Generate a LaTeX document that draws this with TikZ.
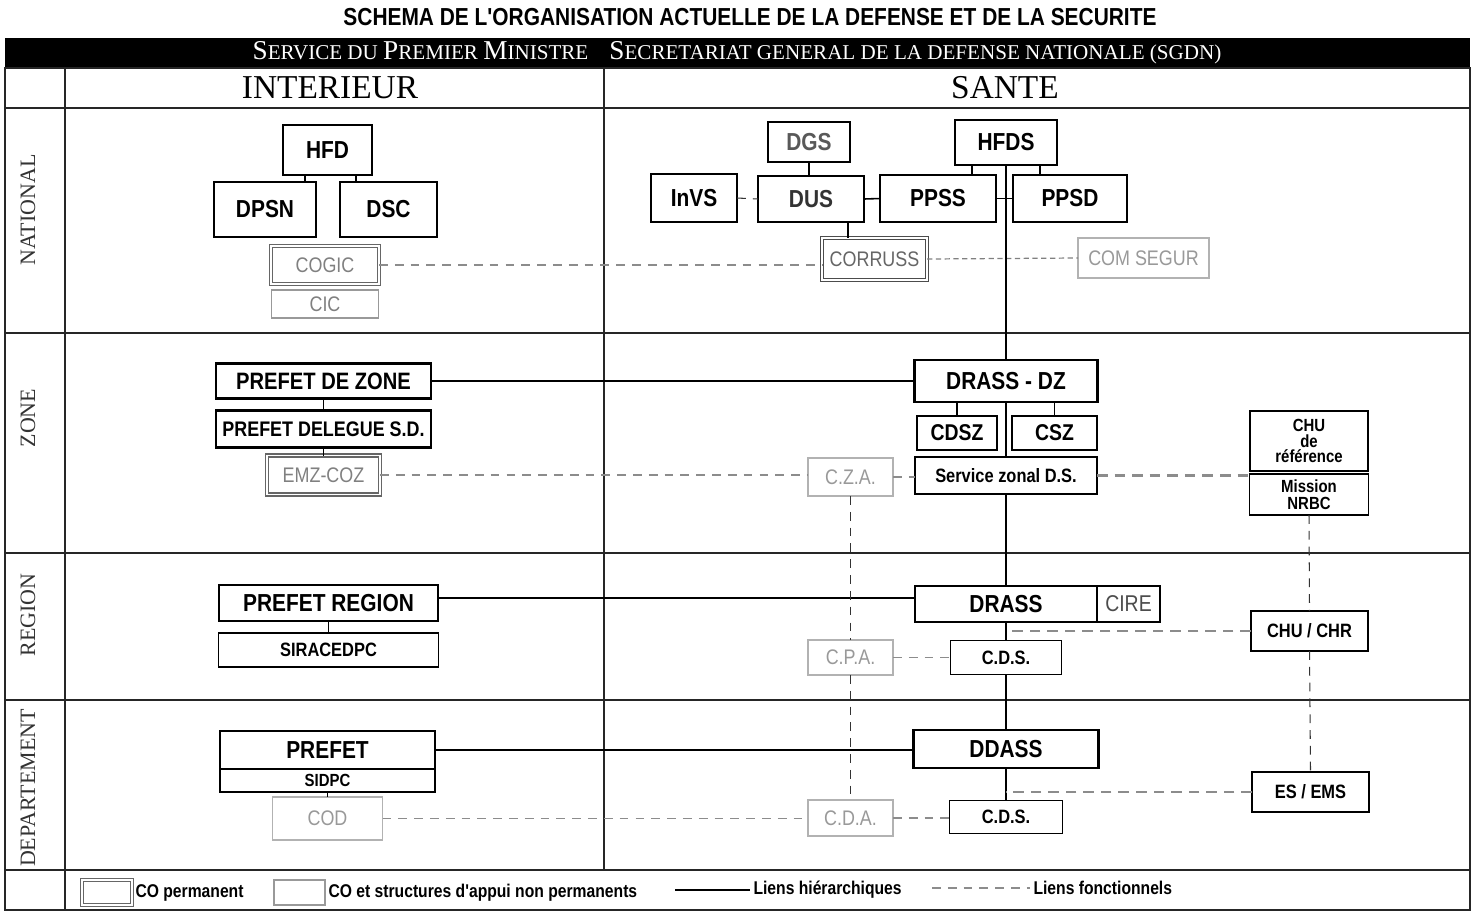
\documentclass[tikz,border=0pt]{standalone}
\usepackage{fontspec}
\setmainfont{Liberation Serif}
\newfontfamily\boxfont[FakeStretch=0.85]{Liberation Sans}
\usetikzlibrary{positioning}
\newcommand\initiale[1]{{\fontsize{15.5}{15}\selectfont #1}}

\begin{document}
\begin{tikzpicture}[x=0.02cm, y=-0.02cm,
    every node/.style={outer sep=0pt},
    sz/.style 2 args={minimum width=#1*0.02cm, minimum height=#2*0.02cm},
    coperm/.style={draw, line width=1.6pt, inner sep=0pt,
                   font=\boxfont\bfseries\fontsize{14}{15}\selectfont},
    cosub/.style={draw, line width=1pt, inner sep=0pt, align=center,
                  font=\boxfont\bfseries\fontsize{11}{11}\selectfont},
    conp/.style={draw=black!40, line width=0.8pt, text=black!50, inner sep=0pt,
                 font=\boxfont\fontsize{12}{13}\selectfont},
    conpd/.style={conp, draw=black!60, double=white, double distance=1pt,
                  line width=0.7pt},
    niveau/.style={rotate=90, text=black!80, font=\fontsize{12.5}{13}\selectfont},
    legende/.style={inner sep=2pt, font=\boxfont\bfseries\fontsize{10.5}{11}\selectfont},
    tab/.style={line width=0.9pt, black!85},
    hier/.style={line width=0.9pt},
    fonc/.style={black!45, line width=0.9pt, dash pattern=on 5pt off 4pt},
    foncfort/.style={black!45, line width=1.6pt, dash pattern=on 6pt off 4pt},
    foncfin/.style={black!80, line width=0.6pt, dash pattern=on 5pt off 4pt}
  ]
  \useasboundingbox (0,0) rectangle (1473,914);
  \fill[white] (0,0) rectangle (1473,914);

  % en-tete
  \node[font=\boxfont\bfseries\fontsize{14}{14}\selectfont] (titre) at (750,17)
    {SCHEMA DE L'ORGANISATION ACTUELLE DE LA DEFENSE ET DE LA SECURITE};
  \fill (5,38) rectangle (1470,68);
  \node[text=white, font=\fontsize{12}{12}\selectfont] (sgdn) at (737,53)
    {\initiale{S}ERVICE DU \initiale{P}REMIER \initiale{M}INISTRE\quad
     \initiale{S}ECRETARIAT GENERAL DE LA DEFENSE NATIONALE (SGDN)};

  % tableau
  \draw[tab] (5,68) rectangle (1470,910);
  \foreach \y in {108,333,553,700,870}
    \draw[tab] (5,\y) -- (1470,\y);
  \draw[tab] (65,68) -- (65,910);
  \draw[tab] (604,68) -- (604,870);
  \node[font=\fontsize{19}{20}\selectfont] (interieur) at (330,88) {INTERIEUR};
  \node[font=\fontsize{19}{20}\selectfont] (sante) at (1005,88) {SANTE};
  \node[niveau] (lnat) at (28,210) {NATIONAL};
  \node[niveau] (lzone) at (28,418) {ZONE};
  \node[niveau] (lreg) at (28,615) {REGION};
  \node[niveau] (ldep) at (28,788) {DEPARTEMENT};

  % national
  \node[coperm, sz={89}{50}] (hfd) at (327.5,150) {HFD};
  \node[coperm, sz={102}{55}] (dpsn) at (265,209.5) {DPSN};
  \node[coperm, sz={97}{55}] (dsc) at (388.5,209.5) {DSC};
  \node[conpd, sz={108}{38}] (cogic) at (325,265) {COGIC};
  \node[conp, sz={107}{28}, below=0.12cm of cogic] (cic) {CIC};
  \draw[hier] ([xshift=-0.45cm]hfd.south) -- ([xshift=-0.45cm]hfd.south |- dpsn.north);
  \draw[hier] ([xshift=0.57cm]hfd.south) -- ([xshift=0.57cm]hfd.south |- dsc.north);

  \node[coperm, sz={82}{40}, text=black!65] (dgs) at (809,142) {DGS};
  \node[coperm, sz={102}{45}] (hfds) at (1006,142.5) {HFDS};
  \node[coperm, sz={86}{48}] (invs) at (694,198) {InVS};
  \node[coperm, sz={106}{46}, text=black!80] (dus) at (811,199) {DUS};
  \node[coperm, sz={116}{47}] (ppss) at (938,198.5) {PPSS};
  \node[coperm, sz={114}{47}] (ppsd) at (1070,198.5) {PPSD};
  \node[conpd, sz={105}{42}, draw=black!70, text=black!60] (corruss) at (874.5,259) {CORRUSS};
  \node[conp, sz={131}{40}, draw=black!30, text=black!40] (comsegur) at (1143.5,258) {COM SEGUR};
  \draw[hier] (dgs.south) -- (dgs.south |- dus.north);
  \draw[foncfin] (invs.east) -- (dus.west);
  \draw[hier] (dus.east) -- (ppss.west);
  \draw[hier] (ppss.east) -- (ppsd.west);
  \draw[hier] ([xshift=-0.68cm]hfds.south) -- ([xshift=-0.68cm]hfds.south |- ppss.north);
  \draw[hier] ([xshift=0.68cm]hfds.south) -- ([xshift=0.68cm]hfds.south |- ppsd.north);
  \draw[hier] ([xshift=0.74cm]dus.south) -- ([xshift=0.74cm]dus.south |- corruss.north);
  \draw[black!50, line width=0.7pt, densely dashed] (corruss.east) -- (comsegur.west);
  \draw[fonc] (cogic.east) -- (cogic.east -| corruss.west);

  % zone
  \node[coperm, sz={215}{35}, font=\boxfont\bfseries\fontsize{13.5}{14}\selectfont] (pzone) at (323.5,381) {PREFET DE ZONE};
  \node[coperm, sz={215}{37}, font=\boxfont\bfseries\fontsize{12}{13}\selectfont,
        below=0.24cm of pzone] (pdsd) {PREFET DELEGUE S.D.};
  \node[conpd, sz={113}{39}, below=0.16cm of pdsd] (emzcoz) {EMZ-COZ};
  \draw[hier] (pzone.south) -- (pdsd.north);
  \draw[hier] (pdsd.south) -- (emzcoz.north);

  \node[coperm, sz={183}{42}] (drassdz) at (1006,381) {DRASS - DZ};
  \node[cosub, sz={80}{34}, font=\boxfont\bfseries\fontsize{13}{14}\selectfont] (cdsz) at (957,433) {CDSZ};
  \node[cosub, sz={85}{34}, font=\boxfont\bfseries\fontsize{13}{14}\selectfont] (csz) at (1054.5,433) {CSZ};
  \node[cosub, sz={182}{37}] (szds) at (1006,475.5) {Service zonal D.S.};
  \node[conp, sz={85}{38}, draw=black!30, text=black!40] (cza) at (850.5,477) {C.Z.A.};
  \node[cosub, sz={118}{60}, font=\boxfont\bfseries\fontsize{10}{9}\selectfont] (churef) at (1309,441) {CHU\\de\\référence};
  \node[cosub, sz={119}{41}, font=\boxfont\bfseries\fontsize{10}{10}\selectfont,
        below=0.06cm of churef] (nrbc) {Mission\\NRBC};
  \draw[hier] (hfds.south) -- (drassdz.north);
  \draw[hier] (cdsz.north |- drassdz.south) -- (cdsz.north);
  \draw[hier] (csz.north |- drassdz.south) -- (csz.north);
  \draw[hier] (drassdz.south) -- (szds.north);
  \draw[hier] (pzone.east) -- (drassdz.west);
  \draw[fonc] (emzcoz.east) -- (emzcoz.east -| cza.west);
  \draw[fonc] (cza.east) -- (cza.east -| szds.west);
  \draw[foncfort] (szds.east) -- (szds.east -| churef.west);

  % region
  \node[coperm, sz={219}{36}] (preg) at (328.5,603) {PREFET REGION};
  \node[cosub, sz={220}{34}, below=0.24cm of preg] (sirac) {SIRACEDPC};
  \draw[hier] (preg.south) -- (sirac.north);
  \node[coperm, sz={182}{36}] (drass) at (1006,604) {DRASS};
  \node[coperm, sz={63}{36}, text=black!70, font=\boxfont\fontsize{13}{14}\selectfont,
        right=0cm of drass] (cire) {CIRE};
  \node[cosub, sz={117}{40}] (chuchr) at (1309.5,631) {CHU / CHR};
  \node[conp, sz={85}{35}, draw=black!30, text=black!40] (cpa) at (850.5,657.5) {C.P.A.};
  \node[cosub, sz={111}{34}] (cdsr) at (1006,657.5) {C.D.S.};
  \draw[hier] ([yshift=-0.26cm]preg.north east) -- ([yshift=-0.26cm]preg.north east -| drass.west);
  \draw[hier] (szds.south) -- (drass.north);
  \draw[hier] (drass.south) -- (cdsr.north);
  \draw[foncfort] (chuchr.west) -- (chuchr.west -| drass.south);
  \draw[fonc] (cpa.east) -- (cdsr.west);
  \draw[foncfin] (cza.south) -- (cpa.north);
  \draw[foncfin] (nrbc.south) -- (chuchr.north);

  % departement
  \node[coperm, sz={215}{38}] (pref) at (327.5,750) {PREFET};
  \node[cosub, sz={215}{23}, font=\boxfont\bfseries\fontsize{10}{10}\selectfont,
        below=0cm of pref] (sidpc) {SIDPC};
  \node[conp, sz={110}{43}, draw=black!30, text=black!40, below=0.1cm of sidpc] (cod) {COD};
  \draw[hier] (sidpc.south) -- (cod.north);
  \node[coperm, sz={185}{38}] (ddass) at (1006,749) {DDASS};
  \node[cosub, sz={117}{40}] (esems) at (1310.5,792) {ES / EMS};
  \node[conp, sz={85}{36}, draw=black!30, text=black!40] (cda) at (850.5,818) {C.D.A.};
  \node[cosub, sz={113}{33}] (cdsd) at (1006,817) {C.D.S.};
  \draw[hier] (pref.east) -- (pref.east -| ddass.west);
  \draw[hier] (cdsr.south) -- (ddass.north);
  \draw[hier] (ddass.south) -- (cdsd.north);
  \draw[foncfort] (esems.west) -- (esems.west -| ddass.south);
  \draw[fonc] (cda.east) -- (cda.east -| cdsd.west);
  \draw[fonc] (cod.east) -- (cod.east -| cda.west);
  \draw[foncfin] (cpa.south) -- (cda.north);
  \draw[foncfin] (chuchr.south) -- (esems.north);

  % legende
  \node[conpd, sz={50}{25}] (lgperm) at (107,892.5) {};
  \node[legende, anchor=west] (lgpermt) at (lgperm.east) {CO permanent};
  \node[conp, sz={51}{25}] (lgnp) at (299.5,892.5) {};
  \node[legende, anchor=west] (lgnpt) at (lgnp.east) {CO et structures d'appui non permanents};
  \coordinate (lgha) at (675,890);
  \node[legende, anchor=west] (lgh) at (750,890) {Liens hiérarchiques};
  \draw[hier] (lgha) -- (lgh.west);
  \coordinate (lgfa) at (932,888);
  \node[legende, anchor=west] (lgf) at (1030,888) {Liens fonctionnels};
  \draw[fonc] (lgfa) -- (lgf.west);
\end{tikzpicture}
\end{document}
